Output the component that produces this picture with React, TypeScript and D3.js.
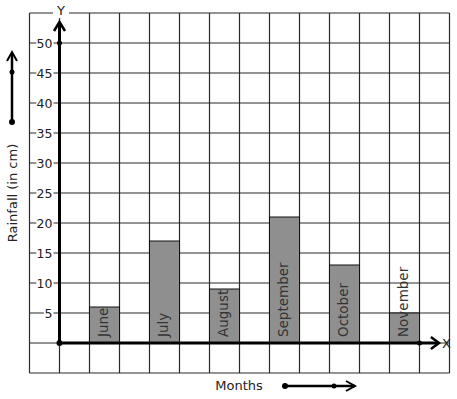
import React, { useRef, useEffect } from 'react';
import * as d3 from 'd3';

const months = ['June', 'July', 'August', 'September', 'October', 'November'];
const rainfall = [6, 17, 9, 21, 13, 5];
const yTicks = [5, 10, 15, 20, 25, 30, 35, 40, 45, 50];

export default function App() {
  const svgRef = useRef<SVGSVGElement>(null);

  useEffect(() => {
    const svg = d3.select(svgRef.current);
    svg.selectAll('*').remove();

    const width = 457;
    const height = 399;
    const font = 'DejaVu Sans, sans-serif';

    svg.append('rect').attr('width', width).attr('height', height).attr('fill', '#fff');

    // grid units: one column = 1 unit on x, one row = 5 cm on y
    const x = d3.scaleLinear().domain([0, 12]).range([59.5, 419.5]);
    const y = d3.scaleLinear().domain([0, 50]).range([343, 43]);

    const grid = svg.append('g').attr('stroke', '#2a2a2a').attr('stroke-width', 1.2);
    d3.range(-1, 14).forEach(i => {
      grid.append('line')
        .attr('x1', x(i)).attr('x2', x(i))
        .attr('y1', y(55)).attr('y2', y(-5));
    });
    d3.range(-5, 56, 5).forEach(v => {
      grid.append('line')
        .attr('x1', x(-1)).attr('x2', x(13))
        .attr('y1', y(v)).attr('y2', y(v));
    });

    // bars
    const bars = svg.append('g');
    months.forEach((m, i) => {
      const x0 = x(2 * i + 1);
      const x1 = x(2 * i + 2);
      bars.append('rect')
        .attr('x', x0).attr('y', y(rainfall[i]))
        .attr('width', x1 - x0).attr('height', y(0) - y(rainfall[i]))
        .attr('fill', '#8f8f8f')
        .attr('stroke', '#111')
        .attr('stroke-width', 1);
      bars.append('text')
        .attr('transform', `translate(${(x0 + x1) / 2},${y(0) - 6}) rotate(-90)`)
        .attr('y', 3.5)
        .attr('font-family', font)
        .attr('font-size', 13.5)
        .attr('fill', '#333')
        .text(m);
    });

    // y tick labels with white backing over the grid line
    const ticks = svg.append('g');
    yTicks.forEach(v => {
      const w = String(v).length * 7.6;
      ticks.append('rect')
        .attr('x', 53.5 - w - 2).attr('y', y(v) - 6)
        .attr('width', w + 2).attr('height', 12)
        .attr('fill', '#fff');
      ticks.append('text')
        .attr('x', 52.5).attr('y', y(v))
        .attr('dy', '0.36em')
        .attr('text-anchor', 'end')
        .attr('font-family', font)
        .attr('font-size', 12.5)
        .attr('fill', '#222')
        .text(v);
    });

    // axes
    const axes = svg.append('g').attr('stroke', '#000').attr('fill', 'none');
    axes.append('line')
      .attr('x1', x(0)).attr('x2', x(0))
      .attr('y1', y(0)).attr('y2', y(53.5))
      .attr('stroke-width', 3);
    axes.append('polyline')
      .attr('points', `${x(0) - 5.5},${y(52)} ${x(0)},${y(53.5)} ${x(0) + 5.5},${y(52)}`)
      .attr('stroke-width', 2.5);
    axes.append('line')
      .attr('x1', x(0)).attr('x2', x(12.65))
      .attr('y1', y(0)).attr('y2', y(0))
      .attr('stroke-width', 3);
    axes.append('polyline')
      .attr('points', `${x(12.38)},${y(1)} ${x(12.65)},${y(0)} ${x(12.38)},${y(-1)}`)
      .attr('stroke-width', 2.5);

    const dots = svg.append('g').attr('fill', '#000');
    dots.append('circle').attr('cx', x(0)).attr('cy', y(0)).attr('r', 3);
    dots.append('circle').attr('cx', x(0)).attr('cy', y(50)).attr('r', 2.5);
    dots.append('circle').attr('cx', x(12)).attr('cy', y(0)).attr('r', 2.5);

    // axis letters
    svg.append('rect').attr('x', 53).attr('y', 4).attr('width', 16).attr('height', 14).attr('fill', '#fff');
    svg.append('text')
      .attr('x', 61).attr('y', 15)
      .attr('text-anchor', 'middle')
      .attr('font-family', font).attr('font-size', 13).attr('fill', '#222')
      .text('Y');
    svg.append('text')
      .attr('x', 442).attr('y', y(0)).attr('dy', '0.36em')
      .attr('font-family', font).attr('font-size', 13).attr('fill', '#222')
      .text('X');

    // axis titles
    svg.append('text')
      .attr('transform', `translate(17,193) rotate(-90)`)
      .attr('text-anchor', 'middle')
      .attr('font-family', font).attr('font-size', 13).attr('fill', '#222')
      .text('Rainfall (in cm)');
    svg.append('text')
      .attr('x', 239).attr('y', 390)
      .attr('text-anchor', 'middle')
      .attr('font-family', font).attr('font-size', 13).attr('fill', '#222')
      .text('Months');

    // direction arrows beside the titles
    const side = svg.append('g').attr('stroke', '#000').attr('fill', 'none');
    side.append('line').attr('x1', 12).attr('x2', 12).attr('y1', 122).attr('y2', 53).attr('stroke-width', 2.5);
    side.append('polyline').attr('points', '7,61 12,52 17,61').attr('stroke-width', 2);
    side.append('line').attr('x1', 285).attr('x2', 355).attr('y1', 386).attr('y2', 386).attr('stroke-width', 2.5);
    side.append('polyline').attr('points', '346,381 355,386 346,391').attr('stroke-width', 2);
    dots.append('circle').attr('cx', 12).attr('cy', 72).attr('r', 2.5);
    dots.append('circle').attr('cx', 12).attr('cy', 122).attr('r', 3);
    dots.append('circle').attr('cx', 285).attr('cy', 386).attr('r', 3);
    dots.append('circle').attr('cx', 334).attr('cy', 386).attr('r', 2.5);
  }, []);

  return (
    <svg
      ref={svgRef}
      width={457}
      height={399}
      style={{ position: 'absolute', left: 0, top: 0 }}
    />
  );
}
